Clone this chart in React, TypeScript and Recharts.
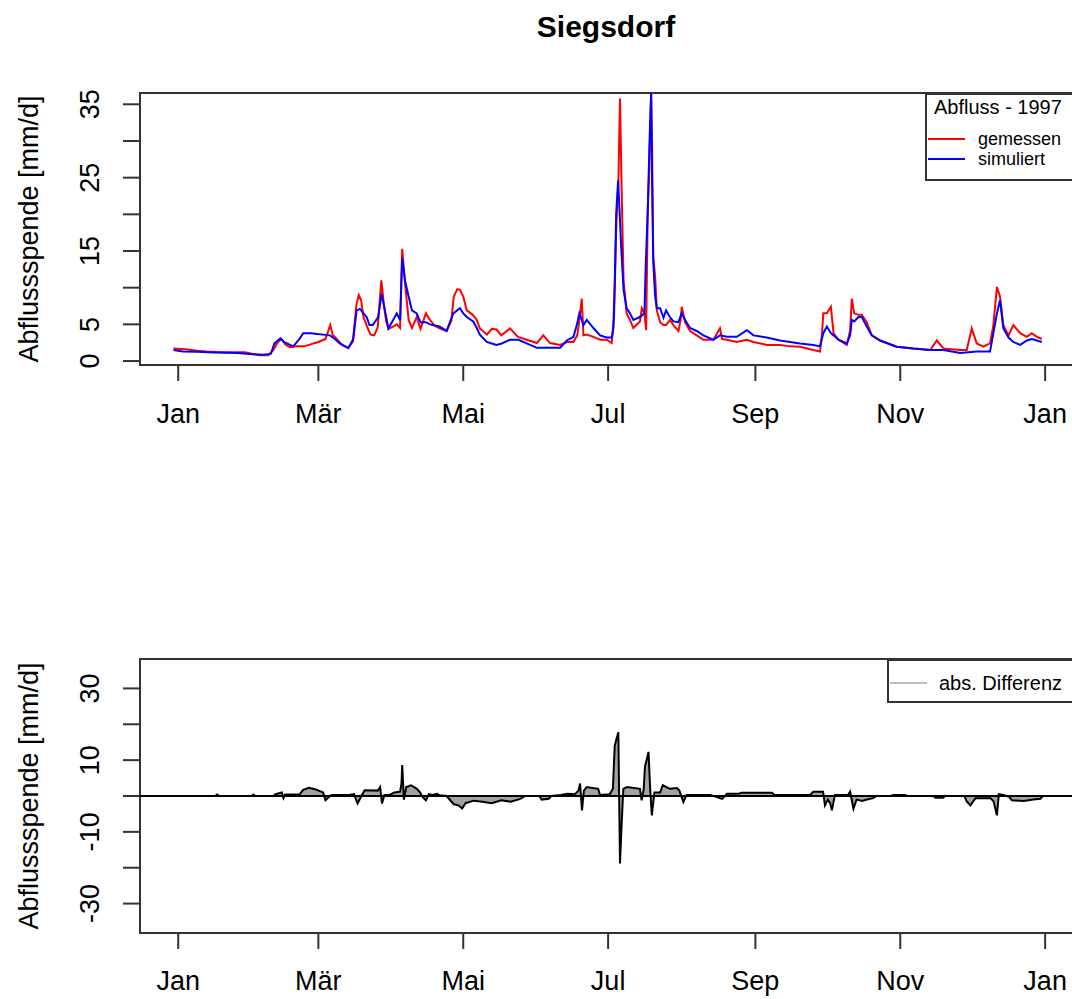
import React from "react";
import {
  Area,
  ComposedChart,
  Legend,
  Line,
  LineChart,
  ReferenceArea,
  ReferenceLine,
  XAxis,
  YAxis,
} from "recharts";

const FONT = '"Liberation Sans", Arial, Helvetica, sans-serif';

// x axis: day of year 1997 (0 = 1 Jan)
const monthTicks = [0, 59, 120, 181, 243, 304, 365];
const monthLabels = ["Jan", "Mär", "Mai", "Jul", "Sep", "Nov", "Jan"];

const topYTicks = [0, 5, 10, 15, 20, 25, 30, 35];
const topYLabelled = [0, 5, 15, 25, 35];
const bottomYTicks = [-30, -20, -10, 0, 10, 20, 30];
const bottomYLabelled = [-30, -10, 10, 30];

// gemessen (measured runoff, mm/d)
const obsDays = [
  -2, 3, 8, 12, 20, 28, 31, 34, 38, 40, 42, 43.5, 45, 47, 50, 53, 56, 59, 62, 64, 65, 67, 69, 71.5, 73.5,
  75, 76, 77, 78, 79.5, 81, 82.5, 84, 85.5, 86.5, 87.5, 88.5, 90.5, 92, 93.4, 94.3, 95.5, 97, 98.4, 100.4,
  102, 104.3, 106, 108, 110, 113, 115, 116, 117.5, 118.6, 120, 121.5, 124, 125.7, 127, 130, 132, 134, 136,
  139.7, 143, 146.7, 151, 153.7, 156.5, 160.8, 163.6, 166.4, 168, 168.9, 169.9, 170.6, 172, 174.8, 177.6,
  180.4, 182.5, 183.5, 184.5, 185.3, 186, 186.7, 187.5, 188.8, 190.2, 191.6, 194.4, 195.2, 196.3, 197,
  197.7, 198.4, 199.1, 199.5, 200, 200.8, 201.5, 202.9, 204.3, 205.4, 207, 208.5, 210.6, 211.5, 212, 213.4,
  215.5, 218.3, 221.1, 225.3, 228.1, 229, 231, 235.2, 239.4, 242.2, 247.8, 253.4, 257.6, 261.8, 267.4,
  270.2, 271, 271.6, 273.1, 274.8, 275.9, 278, 281.5, 282.9, 283.6, 284.6, 286.4, 287.8, 289.9, 292, 295.5,
  302.5, 309.5, 316.6, 319.4, 322.2, 329.2, 332, 334.1, 336.2, 339, 341.8, 343.2, 344.7, 346, 347.4, 349.6,
  351.6, 354.5, 357.3, 359.4, 361.5, 363.6,
];
const obsValues = [
  1.7, 1.6, 1.4, 1.3, 1.2, 1.2, 1.0, 0.8, 0.8, 1.5, 2.6, 3.0, 2.3, 1.9, 2.0, 2.0, 2.3, 2.6, 3.0, 4.9, 3.6, 2.9,
  2.2, 1.8, 2.6, 7.6, 9.0, 8.3, 6.0, 4.7, 3.6, 3.5, 4.6, 11.0, 8.0, 5.5, 4.4, 4.7, 5.0, 4.5, 15.3, 10.6, 5.6,
  4.5, 6.0, 4.4, 6.5, 5.6, 4.8, 4.45, 4.1, 5.5, 8.8, 9.8, 9.7, 8.8, 6.9, 6.3, 5.6, 4.45, 3.6, 4.4, 4.3, 3.5,
  4.45, 3.3, 2.9, 2.45, 3.5, 2.45, 2.2, 2.6, 2.6, 3.5, 5.6, 8.5, 3.5, 3.6, 3.3, 2.9, 2.9, 2.45, 6.0, 19.2,
  24.0, 35.8, 23.3, 11.0, 6.5, 5.6, 4.5, 5.4, 7.2, 6.5, 4.2, 20.6, 27.0, 36.5, 30.1, 14.2, 11.5, 6.9, 5.3,
  4.9, 4.9, 5.6, 4.9, 4.1, 5.5, 7.4, 5.3, 4.1, 3.5, 2.9, 2.9, 4.45, 3.0, 2.9, 2.6, 2.9, 2.6, 2.2, 2.2, 2.0,
  1.95, 1.5, 1.3, 3.5, 6.5, 6.5, 7.4, 3.8, 2.9, 2.2, 4.2, 8.5, 6.5, 6.3, 6.3, 5.3, 3.5, 2.8, 1.95, 1.7, 1.5,
  2.8, 1.7, 1.5, 1.5, 4.45, 2.4, 1.95, 2.4, 4.9, 10.1, 8.8, 4.9, 3.5, 4.9, 3.8, 3.3, 3.8, 3.3, 3.0,
];

// simuliert (simulated runoff, mm/d)
const simDays = [
  -2, 2, 8, 15, 25, 30, 36, 39, 40.5, 43, 44.5, 48.4, 51, 52.6, 56, 58.3, 61, 63.9, 66, 68, 71.6, 73.7, 75.1,
  76.5, 79.3, 80.5, 81.9, 84.2, 85.6, 87, 88.5, 90.5, 92, 93.4, 94.3, 95.5, 97, 98.4, 100.4, 102, 104.3, 106,
  110, 113, 115.8, 118.6, 120, 121.5, 124.2, 125.7, 127, 129.9, 132, 134, 136.2, 139.7, 143.2, 146.7, 151,
  156.5, 160.8, 163.6, 166.4, 167.8, 168.9, 169.9, 170.6, 172, 174.8, 177.6, 180.4, 182.5, 183.2, 183.8,
  184.4, 185.2, 185.8, 186.5, 187.5, 188.8, 190.2, 191.6, 194.4, 196.3, 196.8, 197.7, 198.4, 199.1, 199.5,
  200, 200.8, 201.5, 202.9, 204.3, 205.4, 207, 208.5, 210.6, 212, 213.4, 215.5, 218.3, 221.1, 225.3, 228.1,
  231, 235.2, 239.4, 242.2, 247.8, 253.4, 257.6, 261.8, 267.4, 270.2, 271.6, 273.1, 274.8, 275.9, 278, 281.5,
  282.9, 283.6, 284.6, 286.4, 287.8, 289.9, 292, 295.5, 302.5, 309.5, 316.6, 322.2, 329.2, 336.2, 341.8,
  343.2, 344.7, 346, 347.4, 349.6, 351.6, 354.5, 357.3, 359.4, 361.5, 363.6,
];
const simValues = [
  1.5, 1.3, 1.25, 1.15, 1.1, 0.95, 0.85, 1.0, 2.4, 3.1, 2.6, 2.0, 3.0, 3.8, 3.8, 3.7, 3.6, 3.5, 3.0, 2.4, 1.75,
  3.0, 6.9, 7.1, 6.0, 4.9, 4.9, 6.0, 9.2, 6.9, 4.45, 5.6, 6.5, 5.6, 14.0, 10.9, 8.8, 6.9, 6.5, 5.3, 5.3, 5.0,
  4.7, 4.1, 6.5, 7.2, 6.5, 6.0, 5.4, 4.5, 3.6, 2.6, 2.4, 2.2, 2.4, 2.9, 2.9, 2.4, 1.8, 1.8, 1.8, 2.8, 3.3,
  4.9, 6.5, 5.6, 4.9, 5.6, 4.5, 3.5, 3.2, 3.2, 4.45, 11.0, 20.1, 24.6, 20.6, 15.6, 9.7, 7.2, 6.5, 5.6, 6.0,
  6.5, 12.8, 20.6, 29.6, 36.5, 24.6, 13.5, 8.8, 7.2, 7.2, 5.9, 6.9, 6.0, 5.4, 5.3, 6.5, 5.6, 4.5, 4.1, 3.5,
  2.9, 3.5, 3.3, 3.3, 4.2, 3.5, 3.2, 2.8, 2.6, 2.4, 2.2, 2.0, 3.8, 4.7, 3.8, 3.5, 2.9, 2.4, 3.5, 5.6, 5.4,
  6.0, 6.0, 4.7, 3.5, 2.8, 1.95, 1.7, 1.5, 1.5, 1.1, 1.3, 1.3, 3.8, 6.5, 8.3, 4.45, 3.2, 2.6, 2.2, 2.8, 3.0,
  2.8, 2.6,
];

// abs. Differenz (mm/d)
const diffDays = [
  -2, 15.5, 16.4, 17.3, 31, 31.6, 32.5, 40, 41, 43.6, 44.3, 45, 51, 52.6, 55, 58, 61, 62, 63.5, 64.5, 72, 74,
  75.5, 77.5, 78.5, 84, 85, 85.8, 86.8, 89, 91, 93.4, 94, 94.3, 95, 96, 98, 100.5, 101.8, 103, 104.3, 105.5,
  107, 109, 110, 113, 116, 118, 119.5, 121, 124.4, 128, 132, 136, 140, 144, 146, 152, 153, 156, 157, 161,
  164, 167, 168.5, 169.2, 170, 170.8, 172, 176.8, 177.6, 181.7, 183, 183.8, 185.3, 186, 186.7, 187.4, 189,
  194.4, 195.1, 196, 196.5, 198, 198.7, 199.4, 200.5, 202.9, 204, 207, 210, 211, 212.7, 214, 224, 229, 231,
  236, 237, 250, 251, 266, 267.4, 271.5, 272.3, 273.5, 274.5, 275.2, 276.5, 282, 282.9, 284.3, 285.6, 288,
  290, 292.6, 294, 300, 301, 306, 307, 318, 318.7, 322, 323, 331, 332, 333.5, 335.7, 342, 343.3, 344.7,
  345.5, 347.4, 350, 351, 356, 360, 363, 364,
];
const diffValues = [
  0, 0, 0.4, 0, 0, 0.4, 0, 0, 0.5, 1.0, -0.6, 0.4, 0.4, 1.7, 2.3, 1.8, 1.0, -1.2, -0.3, 0.3, 0.3, 0.5, -2.1,
  0.5, 1.6, 1.5, 2.5, -2.1, 0.3, 0.3, 1.0, 1.2, 3.5, 8.6, -1.0, 2.5, 3.0, 2.0, 1.0, -0.4, -1.2, 0.5, 0.3, 0.6,
  0.2, 0, -2.3, -2.6, -3.5, -2.0, -1.3, -1.6, -2.0, -1.2, -1.6, -0.8, 0, 0, -1.0, -0.8, 0, 0.3, 0.6, 0.5,
  1.5, 3.5, -4.0, 1.5, 2.5, 2.0, 0.3, 0.5, 2.0, 14.1, 17.8, -18.8, -7.7, 2.0, 2.5, 2.0, -1.2, 2.0, 8.1, 12.3,
  2.0, -5.4, 1.0, 1.0, 3.0, 2.0, 2.2, 1.5, -1.7, 0.3, 0.3, -0.8, 0.6, 0.6, 0.9, 0.9, 0.3, 0.3, 1.2, 1.2,
  -2.6, -1.0, -2.0, -4.0, 0.3, 0.3, 1.2, -3.5, -1.0, -1.4, -1.0, -0.6, 0, 0, 0.3, 0.3, 0, 0, -0.5, -0.5, 0,
  0, -1.5, -2.6, -0.6, -0.6, -1.5, -5.4, 0.5, 0.3, -0.3, -1.2, -1.4, -1.0, -0.8, 0,
];

const topLegend = [
  { name: "gemessen", color: "#ff0000" },
  { name: "simuliert", color: "#0000ff" },
];
const bottomLegend = [{ name: "abs. Differenz", color: "#bebebe" }];

const obsData = obsDays.map((d, i) => ({ day: d, q: obsValues[i] }));
const simData = simDays.map((d, i) => ({ day: d, q: simValues[i] }));
const diffData = diffDays.map((d, i) => ({ day: d, diff: diffValues[i] }));

const X_DOMAIN: [number, number] = [-16.1, 380.1];
const TOP_Y: [number, number] = [-0.54, 36.54];
const BOT_Y: [number, number] = [-38.2, 38.2];
const CHART_W = 1110;
const BOX = "#333";
// axis sizes reserved by recharts; margins are reduced by these so the
// plot box lands at x 140..1081
const Y_AXIS_W = 60;
const X_AXIS_H = 30;

function XTick(props: any) {
  const { x, y, payload } = props;
  const label = monthLabels[monthTicks.indexOf(payload.value)];
  return (
    <text x={x} y={y} textAnchor="middle" dominantBaseline="central" fontSize={27} fontFamily={FONT} fill="#000">
      {label}
    </text>
  );
}

function makeYTick(shown: number[]) {
  return function YTick(props: any) {
    const { x, y, payload } = props;
    if (!shown.includes(payload.value)) return <g />;
    return (
      <text
        x={x}
        y={y}
        transform={`rotate(-90, ${x}, ${y})`}
        textAnchor="middle"
        dominantBaseline="central"
        fontSize={27}
        fontFamily={FONT}
        fill="#000"
      >
        {payload.value}
      </text>
    );
  };
}

function yTitle(fallbackY: number, fallbackH: number) {
  return function YTitle(props: any) {
    const vb = props.viewBox || {};
    const cy = (vb.y ?? fallbackY) + (vb.height ?? fallbackH) / 2;
    return (
      <text
        x={29}
        y={cy}
        transform={`rotate(-90, 29, ${cy})`}
        textAnchor="middle"
        dominantBaseline="central"
        fontSize={27}
        fontFamily={FONT}
        fill="#000"
      >
        Abflussspende [mm/d]
      </text>
    );
  };
}

function LegendBox({ title, items, height }: { title?: string; items: { name: string; color: string }[]; height: number }) {
  const rowTop = title ? 44 : 22;
  return (
    <div
      style={{
        position: "relative",
        boxSizing: "border-box",
        height,
        border: `2px solid ${BOX}`,
        background: "#fff",
        fontFamily: FONT,
        color: "#000",
      }}
    >
      {title && (
        <div style={{ position: "absolute", left: 7, top: 1, fontSize: 20, lineHeight: "22px", whiteSpace: "nowrap" }}>{title}</div>
      )}
      {items.map((it, i) => (
        <React.Fragment key={it.name}>
          <div
            style={{
              position: "absolute",
              left: 1,
              top: rowTop + i * 20 - 1,
              width: 37,
              height: 2,
              background: it.color,
            }}
          />
          <div
            style={{
              position: "absolute",
              left: title ? 51 : 50,
              top: rowTop + i * 20 - 11,
              fontSize: title ? 18 : 20,
              lineHeight: "22px",
              whiteSpace: "nowrap",
            }}
          >
            {it.name}
          </div>
        </React.Fragment>
      ))}
    </div>
  );
}

export default function App() {
  return (
    <div
      style={{
        position: "absolute",
        left: 0,
        top: 0,
        width: 1072,
        height: 999,
        overflow: "hidden",
        background: "#fff",
      }}
    >
      <div
        style={{
          position: "absolute",
          left: 0,
          top: 11,
          width: 1212,
          textAlign: "center",
          fontFamily: FONT,
          fontWeight: "bold",
          fontSize: 30,
          lineHeight: "31px",
          color: "#000",
        }}
      >
        Siegsdorf
      </div>

      <div style={{ position: "absolute", left: 0, top: 0 }}>
        <LineChart
          width={CHART_W}
          height={440}
          margin={{ top: 93, right: 29, bottom: 75 - X_AXIS_H, left: 140 - Y_AXIS_W }}
        >
          <XAxis
            type="number"
            dataKey="day"
            domain={X_DOMAIN}
            ticks={monthTicks}
            allowDataOverflow
            height={X_AXIS_H}
            tickSize={16}
            tickMargin={33}
            axisLine={false}
            tickLine={{ stroke: BOX, strokeWidth: 2 }}
            tick={<XTick />}
            interval={0}
          />
          <YAxis
            type="number"
            domain={TOP_Y}
            ticks={topYTicks}
            allowDataOverflow
            width={Y_AXIS_W}
            tickSize={17}
            tickMargin={33}
            axisLine={false}
            tickLine={{ stroke: BOX, strokeWidth: 2 }}
            tick={makeYTick(topYLabelled)}
            interval={0}
            label={yTitle(93, 272)}
          />
          <ReferenceArea
            x1={X_DOMAIN[0]}
            x2={X_DOMAIN[1]}
            y1={TOP_Y[0]}
            y2={TOP_Y[1]}
            fill="none"
            stroke={BOX}
            strokeWidth={2}
            ifOverflow="visible"
          />
          <Line
            data={obsData}
            dataKey="q"
            name="gemessen"
            type="linear"
            stroke="#ff0000"
            strokeWidth={2}
            dot={false}
            activeDot={false}
            isAnimationActive={false}
          />
          <Line
            data={simData}
            dataKey="q"
            name="simuliert"
            type="linear"
            stroke="#0000ff"
            strokeWidth={2}
            dot={false}
            activeDot={false}
            isAnimationActive={false}
          />
          <Legend
            layout="horizontal"
            verticalAlign="middle"
            align="center"
            wrapperStyle={{ left: 925, top: 93, width: 170, height: 88 }}
            content={() => <LegendBox title="Abfluss - 1997" items={topLegend} height={88} />}
          />
        </LineChart>
      </div>

      <div style={{ position: "absolute", left: 0, top: 600 }}>
        <ComposedChart
          width={CHART_W}
          height={399}
          margin={{ top: 59, right: 29, bottom: 66 - X_AXIS_H, left: 140 - Y_AXIS_W }}
        >
          <XAxis
            type="number"
            dataKey="day"
            domain={X_DOMAIN}
            ticks={monthTicks}
            allowDataOverflow
            height={X_AXIS_H}
            tickSize={16}
            tickMargin={32}
            axisLine={false}
            tickLine={{ stroke: BOX, strokeWidth: 2 }}
            tick={<XTick />}
            interval={0}
          />
          <YAxis
            type="number"
            domain={BOT_Y}
            ticks={bottomYTicks}
            allowDataOverflow
            width={Y_AXIS_W}
            tickSize={17}
            tickMargin={33}
            axisLine={false}
            tickLine={{ stroke: BOX, strokeWidth: 2 }}
            tick={makeYTick(bottomYLabelled)}
            interval={0}
            label={yTitle(59, 274)}
          />
          <ReferenceArea
            x1={X_DOMAIN[0]}
            x2={X_DOMAIN[1]}
            y1={BOT_Y[0]}
            y2={BOT_Y[1]}
            fill="none"
            stroke={BOX}
            strokeWidth={2}
            ifOverflow="visible"
          />
          <Area
            data={diffData}
            dataKey="diff"
            name="abs. Differenz"
            type="linear"
            baseValue={0}
            fill="#a3a3a3"
            fillOpacity={1}
            stroke="#000"
            strokeWidth={2}
            dot={false}
            activeDot={false}
            isAnimationActive={false}
          />
          <ReferenceLine y={0} stroke="#000" strokeWidth={2} ifOverflow="visible" />
          <Legend
            layout="horizontal"
            verticalAlign="middle"
            align="center"
            wrapperStyle={{ left: 887, top: 59, width: 200, height: 44 }}
            content={() => <LegendBox items={bottomLegend} height={44} />}
          />
        </ComposedChart>
      </div>
    </div>
  );
}
